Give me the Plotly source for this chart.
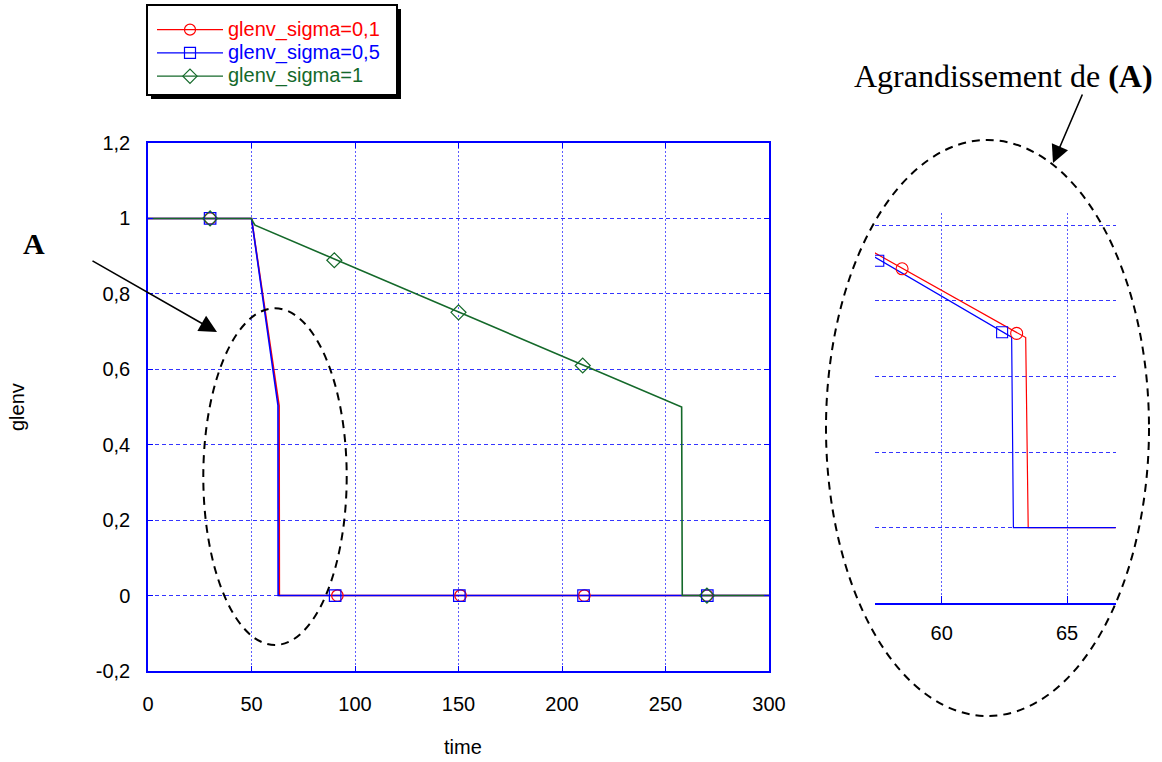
import plotly.graph_objects as go

W, H = 1162, 762

# ---------------- data ----------------
series_names = ["glenv_sigma=0,1", "glenv_sigma=0,5", "glenv_sigma=1"]

time_s01 = [0, 50, 63.35, 63.45, 300]
glenv_s01 = [1, 1, 0.503, 0, 0]
time_s05 = [0, 50, 62.79, 62.86, 300]
glenv_s05 = [1, 1, 0.504, 0, 0]
time_s1 = [0, 50, 50.8, 51.7, 257.8, 258.1, 300]
glenv_s1 = [1, 1, 0.99, 0.982, 0.5, 0, 0]

mk_time_s01 = [30, 91.5, 151, 210.8, 270]
mk_glenv_s01 = [1, 0, 0, 0, 0]
mk_time_s05 = [30, 90.4, 150.4, 210.4, 270.2]
mk_glenv_s05 = [1, 0, 0, 0, 0]
mk_time_s1 = [30, 90, 150, 210, 270]
mk_glenv_s1 = [1, 0.889, 0.751, 0.61, 0]

zoom_mk_time_s01 = [58.42, 62.99]
zoom_mk_glenv_s01 = [0.685, 0.514]
zoom_mk_time_s05 = [57.47, 62.41]
zoom_mk_glenv_s05 = [0.706, 0.517]

x_ticks = [0, 50, 100, 150, 200, 250, 300]
x_ticktext = ["0", "50", "100", "150", "200", "250", "300"]
y_ticks = [-0.2, 0, 0.2, 0.4, 0.6, 0.8, 1, 1.2]
y_ticktext = ["-0,2", "0", "0,2", "0,4", "0,6", "0,8", "1", "1,2"]
zoom_x_ticks = [60, 65]
zoom_x_ticktext = ["60", "65"]
zoom_y_grid = [0, 0.2, 0.4, 0.6, 0.8]

# ---------------- styles ----------------
RED = "#ff0000"
BLUE = "#0000ff"
GREEN = "#14692a"
VGRID = "#5c5cff"
HGRID = "#3535ff"
SANS = "Liberation Sans, Arial, sans-serif"
SERIF = "Liberation Serif, Times New Roman, serif"


def px(x):
    return x / W


def py(y):
    return 1 - y / H


fig = go.Figure()

series = [
    (series_names[0], RED, "circle-open", time_s01, glenv_s01, mk_time_s01, mk_glenv_s01),
    (series_names[1], BLUE, "square-open", time_s05, glenv_s05, mk_time_s05, mk_glenv_s05),
    (series_names[2], GREEN, "diamond-open", time_s1, glenv_s1, mk_time_s1, mk_glenv_s1),
]

# main lines
for name, col, sym, tx, ty, mx, my in series:
    fig.add_trace(go.Scatter(x=tx, y=ty, mode="lines", line=dict(color=col, width=1.6),
                             showlegend=False, hoverinfo="skip", xaxis="x", yaxis="y"))
# main markers
for name, col, sym, tx, ty, mx, my in series:
    fig.add_trace(go.Scatter(x=mx, y=my, mode="markers",
                             marker=dict(symbol=sym, color=col, size=11.5, line=dict(width=1.2, color=col)),
                             showlegend=False, hoverinfo="skip", xaxis="x", yaxis="y"))
# legend entries
for name, col, sym, tx, ty, mx, my in series:
    fig.add_trace(go.Scatter(x=[None], y=[None], mode="lines+markers",
                             name='<span style="color:%s;font-size:20px">%s</span>' % (col, name),
                             line=dict(color=col, width=1.2),
                             marker=dict(symbol=sym, color=col, size=11, line=dict(width=1.2, color=col)),
                             xaxis="x", yaxis="y"))

# inset (zoom of A)
for name, col, sym, tx, ty, mx, my in series[:2]:
    fig.add_trace(go.Scatter(x=tx, y=ty, mode="lines", line=dict(color=col, width=1.2),
                             showlegend=False, hoverinfo="skip", xaxis="x2", yaxis="y2"))
fig.add_trace(go.Scatter(x=zoom_mk_time_s01, y=zoom_mk_glenv_s01, mode="markers",
                         marker=dict(symbol="circle-open", color=RED, size=12, line=dict(width=1.1, color=RED)),
                         showlegend=False, hoverinfo="skip", xaxis="x2", yaxis="y2", cliponaxis=True))
fig.add_trace(go.Scatter(x=zoom_mk_time_s05, y=zoom_mk_glenv_s05, mode="markers",
                         marker=dict(symbol="square-open", color=BLUE, size=11, line=dict(width=1.1, color=BLUE)),
                         showlegend=False, hoverinfo="skip", xaxis="x2", yaxis="y2", cliponaxis=True))

tickfont = dict(family=SANS, size=20, color="black")

fig.update_layout(
    width=W, height=H,
    margin=dict(l=0, r=0, t=0, b=0),
    paper_bgcolor="white", plot_bgcolor="white",
    showlegend=True,
    xaxis=dict(domain=[px(148), px(769)], range=[0, 300], tickvals=x_ticks, ticktext=x_ticktext,
               ticks="inside", ticklen=5, tickcolor=BLUE, tickwidth=1.2,
               showline=True, linecolor=BLUE, linewidth=1.5, mirror="ticks",
               showgrid=True, gridcolor=VGRID, gridwidth=1, griddash="2px,2px",
               zeroline=False, tickfont=tickfont, ticklabelstandoff=14, anchor="y",
               automargin=False, fixedrange=True),
    yaxis=dict(domain=[py(671), py(143)], range=[-0.2, 1.2], tickvals=y_ticks, ticktext=y_ticktext,
               ticks="inside", ticklen=5, tickcolor=BLUE, tickwidth=1.2,
               showline=True, linecolor=BLUE, linewidth=1.5, mirror="ticks",
               showgrid=True, gridcolor=HGRID, gridwidth=1, griddash="4px,3px",
               zeroline=False, tickfont=tickfont, ticklabelstandoff=12, anchor="x",
               automargin=False, fixedrange=True),
    xaxis2=dict(domain=[px(875), px(1115.7)], range=[57.34, 66.94], tickvals=zoom_x_ticks,
                ticktext=zoom_x_ticktext, ticks="inside", ticklen=8, tickcolor=BLUE, tickwidth=1.2,
                showline=True, linecolor=BLUE, linewidth=1.5, mirror=False,
                showgrid=True, gridcolor=VGRID, gridwidth=1, griddash="2px,2px",
                zeroline=False, tickfont=tickfont, ticklabelstandoff=11, anchor="y2",
                automargin=False, fixedrange=True),
    yaxis2=dict(domain=[py(603.3), py(213)], range=[-0.2, 0.8325], tickvals=zoom_y_grid,
                showticklabels=False, ticks="", showline=False,
                showgrid=True, gridcolor=HGRID, gridwidth=1, griddash="4px,3px",
                zeroline=False, anchor="x2", automargin=False, fixedrange=True),
    legend=dict(x=px(152), y=py(13), xanchor="left", yanchor="top",
                bgcolor="rgba(0,0,0,0)", borderwidth=0,
                font=dict(family=SANS, size=15.6), itemwidth=66, tracegroupgap=0),
)

# legend frame with drop shadow
fig.add_shape(type="rect", xref="paper", yref="paper",
              x0=px(151), x1=px(401), y0=py(99), y1=py(9),
              fillcolor="black", line=dict(width=0), layer="below")
fig.add_shape(type="rect", xref="paper", yref="paper",
              x0=px(147), x1=px(397), y0=py(95), y1=py(5),
              fillcolor="white", line=dict(width=2, color="black"), layer="below")

# dashed ellipses
fig.add_shape(type="circle", xref="paper", yref="paper",
              x0=px(203.3), x1=px(346.7), y0=py(645), y1=py(308.3),
              line=dict(color="black", width=2, dash="8px,6px"), layer="above")
fig.add_shape(type="circle", xref="paper", yref="paper",
              x0=px(826), x1=px(1149), y0=py(716), y1=py(140),
              line=dict(color="black", width=2, dash="8px,6px"), layer="above")


def arrow(tip, tail):
    fig.add_annotation(x=px(tip[0]), y=py(tip[1]), xref="paper", yref="paper",
                       ax=tail[0] - tip[0], ay=tail[1] - tip[1], axref="pixel", ayref="pixel",
                       text="", showarrow=True, arrowhead=2, arrowsize=2.2, arrowwidth=1.6,
                       arrowcolor="black", standoff=0)


arrow((217, 332), (91, 260))
arrow((1053, 163), (1083, 93))


def label(x, y, text, font, angle=0):
    fig.add_annotation(x=px(x), y=py(y), xref="paper", yref="paper", text=text,
                       xanchor="center", yanchor="middle", textangle=angle,
                       showarrow=False, font=font)


label(34, 243, "<b>A</b>", dict(family=SERIF, size=30, color="black"))
label(1003.5, 76, "Agrandissement de <b>(A)</b>", dict(family=SERIF, size=32, color="black"))
label(463, 747, "time", dict(family=SANS, size=20, color="black"))
label(17, 407, "glenv", dict(family=SANS, size=20, color="black"), angle=-90)

fig.write_html("out.html", post_script="document.body.style.margin='0';",
               config={"displayModeBar": False})
